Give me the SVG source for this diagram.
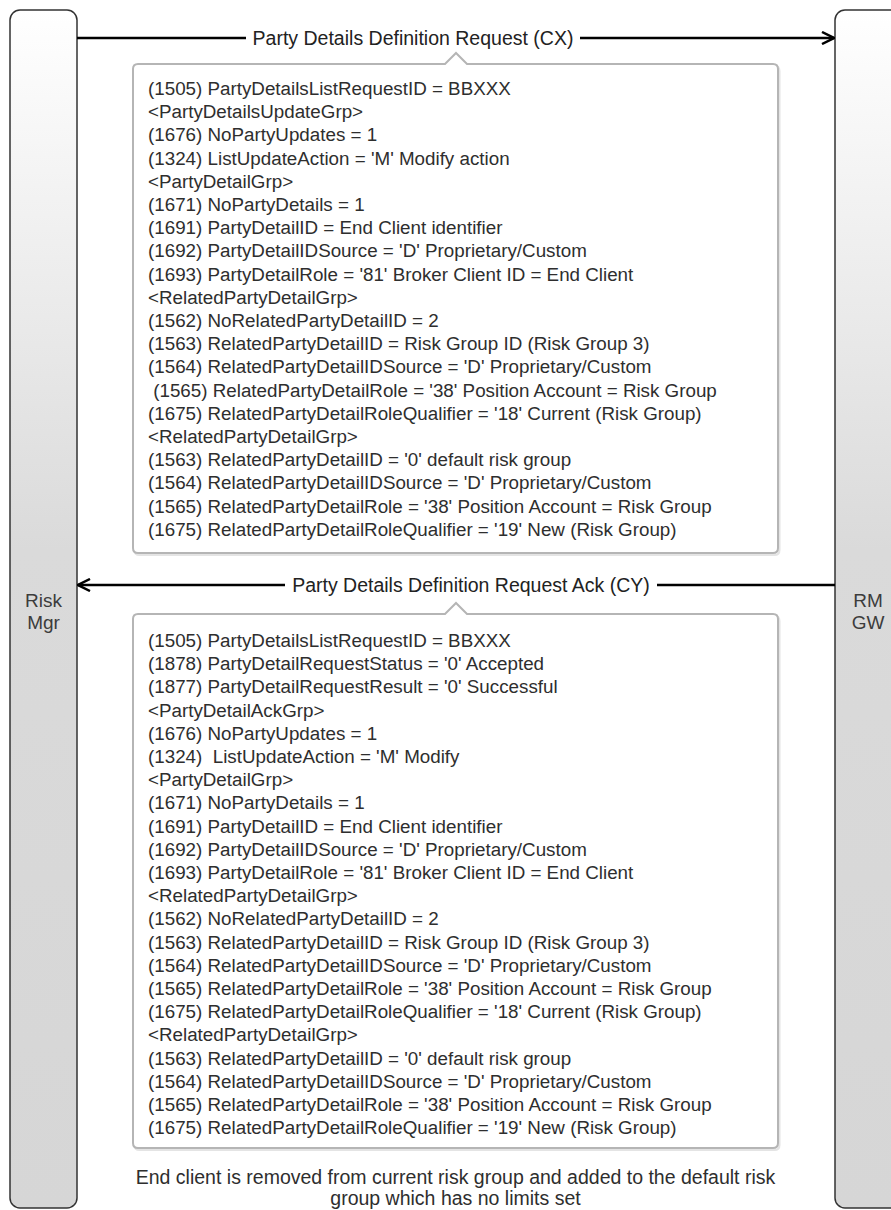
<svg xmlns="http://www.w3.org/2000/svg" width="891" height="1210" viewBox="0 0 891 1210">
<style>
.lane{stroke:#333;stroke-width:1.5;fill:url(#laneGrad)}
.lbl{font-family:"Liberation Sans",Arial,sans-serif;font-size:19px;fill:#3c3c3c;text-anchor:middle}
.txt{font-family:"Liberation Sans",Arial,sans-serif;font-size:18.8px;fill:#2e2e2e;white-space:pre}
.box{fill:#fff;stroke:#b5b5b5;stroke-width:2}
.shadow{fill:none;stroke:#e4e4e4;stroke-width:2}
.msg{stroke:#000;stroke-width:2.5;fill:none}
.mlbl{font-family:"Liberation Sans",Arial,sans-serif;font-size:19.5px;fill:#222;text-anchor:middle}
.note{font-family:"Liberation Sans",Arial,sans-serif;font-size:19.5px;fill:#2e2e2e;text-anchor:middle}
</style>
<defs>
<linearGradient id="laneGrad" x1="0" y1="0" x2="0" y2="1">
<stop offset="0" stop-color="#ffffff"/>
<stop offset="0.45" stop-color="#dadada"/>
<stop offset="1" stop-color="#d6d6d6"/>
</linearGradient>
<marker id="arr" viewBox="0 0 14 14" refX="13" refY="7" markerWidth="14" markerHeight="14" markerUnits="userSpaceOnUse" orient="auto">
<path d="M1,1 L13,7 L1,13" fill="none" stroke="#000" stroke-width="2.5"/>
</marker>
</defs>
<rect width="891" height="1210" fill="#fff"/>
<g id="lane-riskmgr">
<rect class="lane" x="10" y="10" width="67" height="1198" rx="10"/>
<text class="lbl" x="43.5" y="607">Risk</text>
<text class="lbl" x="43.5" y="629">Mgr</text>
</g>
<g id="lane-rmgw">
<rect class="lane" x="835" y="10" width="67" height="1198" rx="10"/>
<text class="lbl" x="868" y="607">RM</text>
<text class="lbl" x="868" y="629">GW</text>
</g>
<g id="connectors">
<line class="msg" x1="77" y1="38" x2="834" y2="38" marker-end="url(#arr)"/>
<rect x="246" y="26" width="334" height="24" fill="#fff"/>
<text class="mlbl" x="413" y="45">Party Details Definition Request (CX)</text>
<line class="msg" x1="835" y1="585" x2="78" y2="585" marker-end="url(#arr)"/>
<rect x="285" y="573" width="372" height="24" fill="#fff"/>
<text class="mlbl" x="471" y="592">Party Details Definition Request Ack (CY)</text>
</g>
<g id="note-request">
<path class="shadow" transform="translate(1.5,2)" d="M138,64 H445 L456,53 L467,64 H773 Q778,64 778,69 V548 Q778,553 773,553 H138 Q133,553 133,548 V69 Q133,64 138,64 Z"/>
<path class="box" d="M138,64 H445 L456,53 L467,64 H773 Q778,64 778,69 V548 Q778,553 773,553 H138 Q133,553 133,548 V69 Q133,64 138,64 Z"/>
<text class="txt" xml:space="preserve" x="148" y="95"><tspan x="148">(1505) PartyDetailsListRequestID = BBXXX</tspan><tspan x="148" dy="23.2">&lt;PartyDetailsUpdateGrp&gt;</tspan><tspan x="148" dy="23.2">(1676) NoPartyUpdates = 1</tspan><tspan x="148" dy="23.2">(1324) ListUpdateAction = 'M' Modify action</tspan><tspan x="148" dy="23.2">&lt;PartyDetailGrp&gt;</tspan><tspan x="148" dy="23.2">(1671) NoPartyDetails = 1</tspan><tspan x="148" dy="23.2">(1691) PartyDetailID = End Client identifier</tspan><tspan x="148" dy="23.2">(1692) PartyDetailIDSource = 'D' Proprietary/Custom</tspan><tspan x="148" dy="23.2">(1693) PartyDetailRole = '81' Broker Client ID = End Client</tspan><tspan x="148" dy="23.2">&lt;RelatedPartyDetailGrp&gt;</tspan><tspan x="148" dy="23.2">(1562) NoRelatedPartyDetailID = 2</tspan><tspan x="148" dy="23.2">(1563) RelatedPartyDetailID = Risk Group ID (Risk Group 3)</tspan><tspan x="148" dy="23.2">(1564) RelatedPartyDetailIDSource = 'D' Proprietary/Custom</tspan><tspan x="148" dy="23.2"> (1565) RelatedPartyDetailRole = '38' Position Account = Risk Group</tspan><tspan x="148" dy="23.2">(1675) RelatedPartyDetailRoleQualifier = '18' Current (Risk Group)</tspan><tspan x="148" dy="23.2">&lt;RelatedPartyDetailGrp&gt;</tspan><tspan x="148" dy="23.2">(1563) RelatedPartyDetailID = '0' default risk group</tspan><tspan x="148" dy="23.2">(1564) RelatedPartyDetailIDSource = 'D' Proprietary/Custom</tspan><tspan x="148" dy="23.2">(1565) RelatedPartyDetailRole = '38' Position Account = Risk Group</tspan><tspan x="148" dy="23.2">(1675) RelatedPartyDetailRoleQualifier = '19' New (Risk Group)</tspan></text>
</g>
<g id="note-ack">
<path class="shadow" transform="translate(1.5,2)" d="M138,614 H445 L456,603 L467,614 H773 Q778,614 778,619 V1143 Q778,1148 773,1148 H138 Q133,1148 133,1143 V619 Q133,614 138,614 Z"/>
<path class="box" d="M138,614 H445 L456,603 L467,614 H773 Q778,614 778,619 V1143 Q778,1148 773,1148 H138 Q133,1148 133,1143 V619 Q133,614 138,614 Z"/>
<text class="txt" xml:space="preserve" x="148" y="647"><tspan x="148">(1505) PartyDetailsListRequestID = BBXXX</tspan><tspan x="148" dy="23.2">(1878) PartyDetailRequestStatus = '0' Accepted</tspan><tspan x="148" dy="23.2">(1877) PartyDetailRequestResult = '0' Successful</tspan><tspan x="148" dy="23.2">&lt;PartyDetailAckGrp&gt;</tspan><tspan x="148" dy="23.2">(1676) NoPartyUpdates = 1</tspan><tspan x="148" dy="23.2">(1324)  ListUpdateAction = 'M' Modify</tspan><tspan x="148" dy="23.2">&lt;PartyDetailGrp&gt;</tspan><tspan x="148" dy="23.2">(1671) NoPartyDetails = 1</tspan><tspan x="148" dy="23.2">(1691) PartyDetailID = End Client identifier</tspan><tspan x="148" dy="23.2">(1692) PartyDetailIDSource = 'D' Proprietary/Custom</tspan><tspan x="148" dy="23.2">(1693) PartyDetailRole = '81' Broker Client ID = End Client</tspan><tspan x="148" dy="23.2">&lt;RelatedPartyDetailGrp&gt;</tspan><tspan x="148" dy="23.2">(1562) NoRelatedPartyDetailID = 2</tspan><tspan x="148" dy="23.2">(1563) RelatedPartyDetailID = Risk Group ID (Risk Group 3)</tspan><tspan x="148" dy="23.2">(1564) RelatedPartyDetailIDSource = 'D' Proprietary/Custom</tspan><tspan x="148" dy="23.2">(1565) RelatedPartyDetailRole = '38' Position Account = Risk Group</tspan><tspan x="148" dy="23.2">(1675) RelatedPartyDetailRoleQualifier = '18' Current (Risk Group)</tspan><tspan x="148" dy="23.2">&lt;RelatedPartyDetailGrp&gt;</tspan><tspan x="148" dy="23.2">(1563) RelatedPartyDetailID = '0' default risk group</tspan><tspan x="148" dy="23.2">(1564) RelatedPartyDetailIDSource = 'D' Proprietary/Custom</tspan><tspan x="148" dy="23.2">(1565) RelatedPartyDetailRole = '38' Position Account = Risk Group</tspan><tspan x="148" dy="23.2">(1675) RelatedPartyDetailRoleQualifier = '19' New (Risk Group)</tspan></text>
</g>
<g id="note-footer">
<text class="note" x="455.5" y="1184">End client is removed from current risk group and added to the default risk</text>
<text class="note" x="455.5" y="1205">group which has no limits set</text>
</g>
</svg>
